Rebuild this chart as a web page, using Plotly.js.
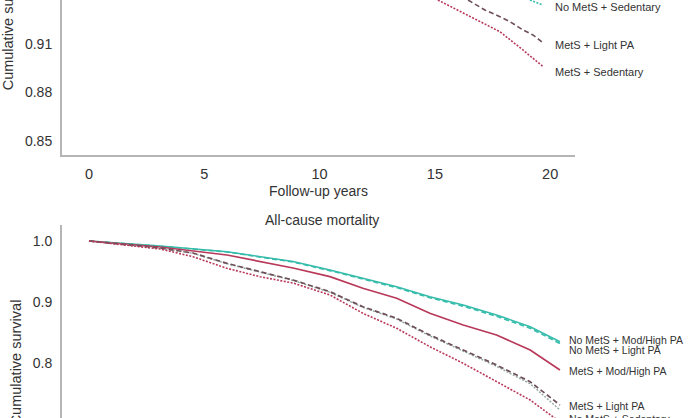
<!DOCTYPE html>
<html>
<head>
<meta charset="utf-8">
<script src="https://cdn.plot.ly/plotly-3.0.1.min.js"></script>
<style>
  html, body { margin: 0; padding: 0; width: 696px; height: 418px; overflow: hidden; background: #fff; }
  #chart { position: absolute; left: 0; top: -110px; width: 696px; height: 640px; }
</style>
</head>
<body>
<div id="chart"></div>
<script>
// ---------- Data ----------
// Upper panel (only the lower part of this panel is visible)
const top_noMetsSed_x   = [19.12, 19.69];
const top_noMetsSed_y   = [0.9372, 0.9341];
const top_metsLight_x   = [16.44, 17.17, 17.82, 18.26, 18.82, 19.25, 19.69];
const top_metsLight_y   = [0.9372, 0.9310, 0.9269, 0.9238, 0.9187, 0.9156, 0.9108];
const top_metsSed_x     = [15.13, 16.39, 17.82, 18.82, 19.43, 19.69];
const top_metsSed_y     = [0.9372, 0.9279, 0.9176, 0.9063, 0.8991, 0.8960];

// Lower panel: All-cause mortality
const ac_years_a        = [0, 2.98, 5.79, 7.17, 8.56, 10.11, 11.49, 12.91, 14.30, 15.70, 17.10, 18.51, 19.76];
const ac_noMetsMod_y    = [1.0, 0.9918, 0.9825, 0.9743, 0.9664, 0.9525, 0.9389, 0.9251, 0.9087, 0.8951, 0.8787, 0.8595, 0.8349];
const ac_noMetsLight_y  = [1.0, 0.9915, 0.9820, 0.9736, 0.9655, 0.9514, 0.9376, 0.9236, 0.9070, 0.8932, 0.8765, 0.8570, 0.8320];
const ac_metsMod_y      = [1.0, 0.9902, 0.9770, 0.9661, 0.9557, 0.9415, 0.9225, 0.9061, 0.8815, 0.8623, 0.8459, 0.8213, 0.7885];
const ac_years_b        = [0, 2.98, 4.36, 5.79, 7.17, 8.56, 10.11, 11.49, 12.91, 14.30, 15.70, 17.10, 18.51, 19.76];
const ac_metsLight_y    = [1.0, 0.9885, 0.9803, 0.9634, 0.9497, 0.9361, 0.9169, 0.8923, 0.8733, 0.8459, 0.8213, 0.7967, 0.7693, 0.7311];
const ac_noMetsSed_y    = [1.0, 0.9882, 0.9798, 0.9628, 0.9490, 0.9353, 0.9160, 0.8912, 0.8720, 0.8444, 0.8195, 0.7945, 0.7660, 0.7230];
const ac_years_c        = [0, 2.98, 4.36, 5.79, 7.17, 8.56, 10.11, 11.49, 12.91, 14.30, 15.70, 17.10, 18.51, 19.46, 19.76];
const ac_metsSed_y      = [1.0, 0.9869, 0.9743, 0.9552, 0.9415, 0.9311, 0.9115, 0.8815, 0.8569, 0.8267, 0.7995, 0.7693, 0.7393, 0.7120, 0.7033];

// Labels
const topLabels    = ["No MetS + Sedentary", "MetS + Light PA", "MetS + Sedentary"];
const topLabelY    = [0.9329, 0.9094, 0.8929];
const bottomLabels = ["No MetS + Mod/High PA", "No MetS + Light PA", "MetS + Mod/High PA", "MetS + Light PA", "No MetS + Sedentary"];
const bottomLabelY = [0.8377, 0.8213, 0.7869, 0.7295, 0.7082];
const xTicks       = [0, 5, 10, 15, 20];

// ---------- Styles ----------
const TEAL = '#35bcab';
const RED  = '#b8395a';
const GREYRED = '#6e4f57';
const FONT = '"Liberation Sans", Arial, Helvetica, sans-serif';
const DOT  = '2px,1.5px';
const DASH = '5px,3px';

function line(x, y, color, dash, width, xa, ya) {
  return { x: x, y: y, xaxis: xa, yaxis: ya, type: 'scatter', mode: 'lines',
           line: { color: color, dash: dash, width: width }, hoverinfo: 'skip', showlegend: false };
}

const traces = [
  line(top_noMetsSed_x, top_noMetsSed_y, TEAL, DOT, 1.6, 'x', 'y'),
  line(top_metsLight_x, top_metsLight_y, GREYRED, DASH, 1.6, 'x', 'y'),
  line(top_metsSed_x, top_metsSed_y, RED, DOT, 1.6, 'x', 'y'),

  line(ac_years_a, ac_noMetsLight_y, TEAL, DASH, 1.6, 'x2', 'y2'),
  line(ac_years_a, ac_noMetsMod_y, TEAL, 'solid', 1.6, 'x2', 'y2'),
  line(ac_years_a, ac_metsMod_y, RED, 'solid', 1.7, 'x2', 'y2'),
  line(ac_years_b, ac_noMetsSed_y, '#8fa6a2', DOT, 1.4, 'x2', 'y2'),
  line(ac_years_b, ac_metsLight_y, GREYRED, DASH, 1.7, 'x2', 'y2'),
  line(ac_years_c, ac_metsSed_y, RED, DOT, 1.6, 'x2', 'y2')
];

const annotations = [];
topLabels.forEach((t, i) => annotations.push({
  text: t, xref: 'x', yref: 'y', x: 20.12, y: topLabelY[i], xanchor: 'left', yanchor: 'middle',
  showarrow: false, font: { family: FONT, size: 11, color: '#333' }
}));
bottomLabels.forEach((t, i) => annotations.push({
  text: t, xref: 'x2', yref: 'y2', x: 20.05, y: bottomLabelY[i], xanchor: 'left', yanchor: 'middle',
  showarrow: false, font: { family: FONT, size: 10.5, color: '#333' }
}));
annotations.push({
  text: 'All-cause mortality', xref: 'paper', yref: 'paper', x: 0.41, y: 0.4667,
  xanchor: 'center', yanchor: 'middle', showarrow: false,
  font: { family: FONT, size: 14, color: '#333' }
});

const axisCommon = {
  showgrid: false, zeroline: false, showline: true, linecolor: '#b5b5b5', linewidth: 2,
  ticks: '', tickfont: { family: FONT, size: 14, color: '#333' }, fixedrange: true
};

const layout = {
  width: 696, height: 640,
  margin: { l: 62, r: 0, t: 10, b: 30 },
  paper_bgcolor: '#fff', plot_bgcolor: '#fff',
  font: { family: FONT, color: '#333' },
  showlegend: false,
  xaxis: Object.assign({}, axisCommon, {
    domain: [0, 0.8091], range: [-1.171, 21.075], anchor: 'y',
    tickvals: xTicks, ticktext: xTicks.map(String), ticklabelstandoff: 5,
    tickfont: { family: FONT, size: 14.5, color: '#333' },
    title: { text: 'Follow-up years', font: { family: FONT, size: 14, color: '#333' }, standoff: 5 }
  }),
  yaxis: Object.assign({}, axisCommon, {
    domain: [0.575, 1], range: [0.84134, 0.99907], anchor: 'x',
    tickvals: [0.85, 0.88, 0.91, 0.94, 0.97], tickformat: '.2f', ticklabelstandoff: 5,
    title: { text: 'Cumulative survival', font: { family: FONT, size: 14.5, color: '#333' }, standoff: 8 }
  }),
  xaxis2: Object.assign({}, axisCommon, {
    domain: [0, 0.8091], range: [-1.133, 20.39], anchor: 'y2',
    tickvals: xTicks, showticklabels: false
  }),
  yaxis2: Object.assign({}, axisCommon, {
    domain: [0, 0.4583], range: [0.5754, 1.0262], anchor: 'x2',
    tickvals: [0.6, 0.7, 0.8, 0.9, 1.0], tickformat: '.1f', ticklabelstandoff: 5,
    title: { text: 'Cumulative survival', font: { family: FONT, size: 14.5, color: '#333' }, standoff: 8 }
  }),
  annotations: annotations
};

Plotly.newPlot('chart', traces, layout, { displayModeBar: false, staticPlot: true });
</script>
</body>
</html>
